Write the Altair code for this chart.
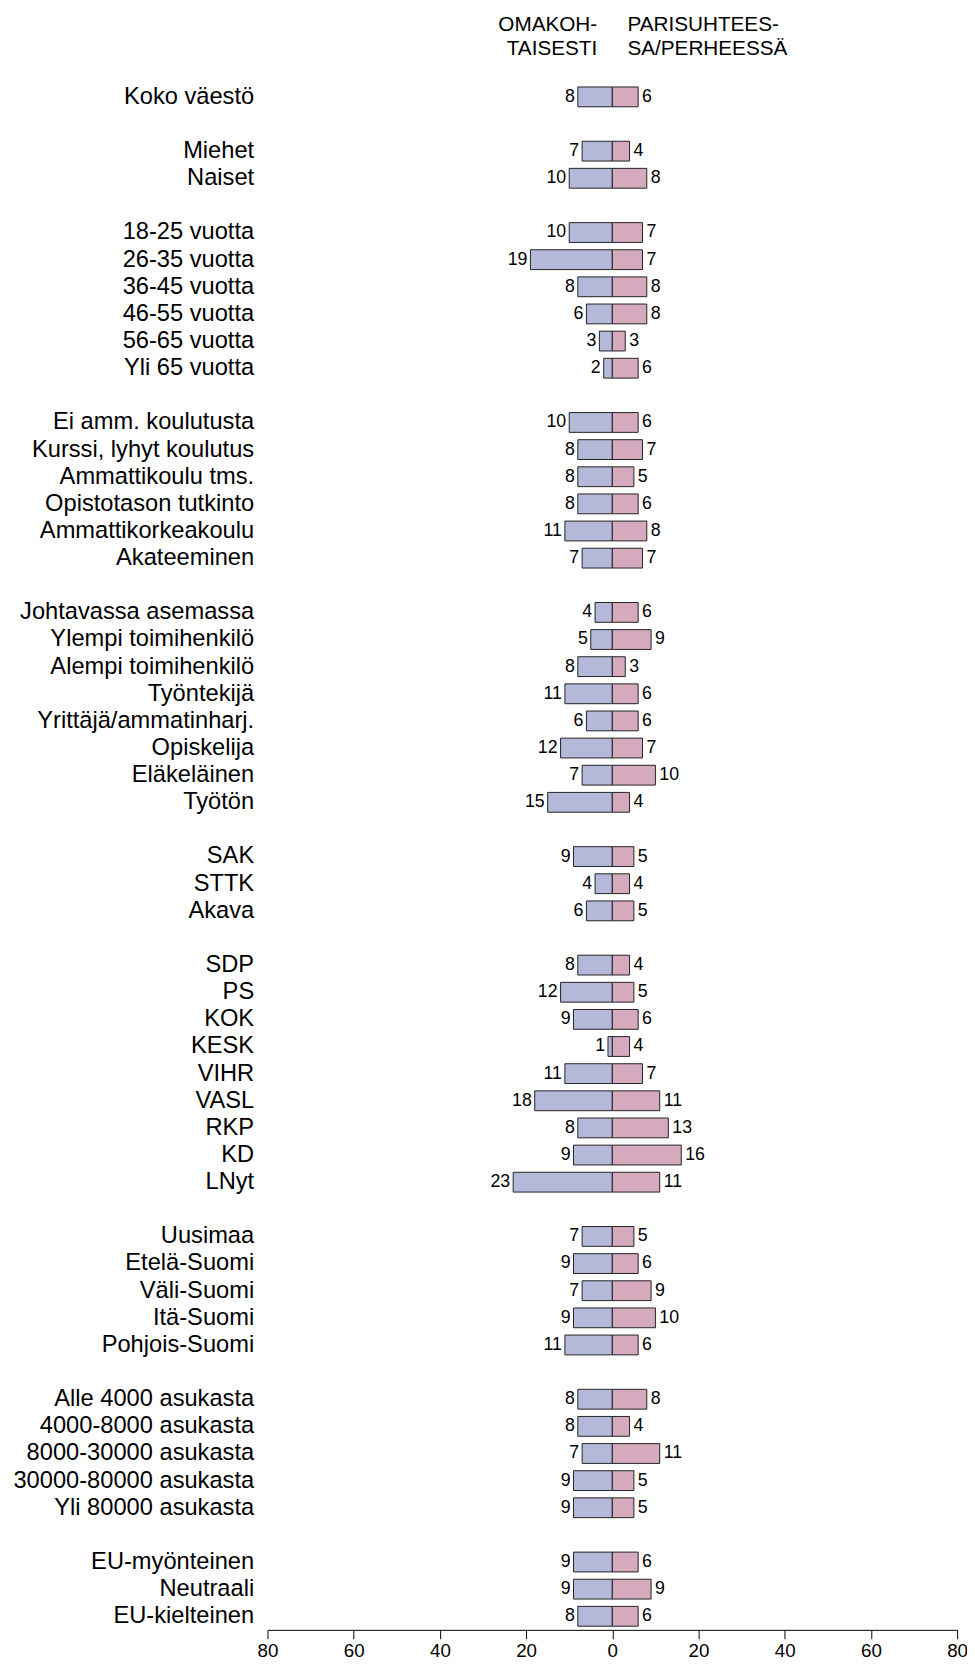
import altair as alt
import pandas as pd

groups = [
    ["Koko väestö"],
    ["Miehet", "Naiset"],
    ["18-25 vuotta", "26-35 vuotta", "36-45 vuotta", "46-55 vuotta", "56-65 vuotta", "Yli 65 vuotta"],
    ["Ei amm. koulutusta", "Kurssi, lyhyt koulutus", "Ammattikoulu tms.", "Opistotason tutkinto",
     "Ammattikorkeakoulu", "Akateeminen"],
    ["Johtavassa asemassa", "Ylempi toimihenkilö", "Alempi toimihenkilö", "Työntekijä",
     "Yrittäjä/ammatinharj.", "Opiskelija", "Eläkeläinen", "Työtön"],
    ["SAK", "STTK", "Akava"],
    ["SDP", "PS", "KOK", "KESK", "VIHR", "VASL", "RKP", "KD", "LNyt"],
    ["Uusimaa", "Etelä-Suomi", "Väli-Suomi", "Itä-Suomi", "Pohjois-Suomi"],
    ["Alle 4000 asukasta", "4000-8000 asukasta", "8000-30000 asukasta", "30000-80000 asukasta",
     "Yli 80000 asukasta"],
    ["EU-myönteinen", "Neutraali", "EU-kielteinen"],
]

omakoht = [
    [8],
    [7, 10],
    [10, 19, 8, 6, 3, 2],
    [10, 8, 8, 8, 11, 7],
    [4, 5, 8, 11, 6, 12, 7, 15],
    [9, 4, 6],
    [8, 12, 9, 1, 11, 18, 8, 9, 23],
    [7, 9, 7, 9, 11],
    [8, 8, 7, 9, 9],
    [9, 9, 8],
]

parisuht = [
    [6],
    [4, 8],
    [7, 7, 8, 8, 3, 6],
    [6, 7, 5, 6, 8, 7],
    [6, 9, 3, 6, 6, 7, 10, 4],
    [5, 4, 5],
    [4, 5, 6, 4, 7, 11, 13, 16, 11],
    [5, 6, 9, 10, 6],
    [8, 4, 11, 5, 5],
    [6, 9, 6],
]

header_left = ["OMAKOH-", "TAISESTI"]
header_right = ["PARISUHTEES-", "SA/PERHEESSÄ"]
tick_values = [-80, -60, -40, -20, 0, 20, 40, 60, 80]

BLUE = "#b4b9da"
PINK = "#d5aabd"
FONT = "Liberation Sans"

# build row order with blank separator rows
row_order = []
bars = []
for gi, (names, lv, rv) in enumerate(zip(groups, omakoht, parisuht)):
    if gi > 0:
        row_order.append(" " * gi)
    for n, a, b in zip(names, lv, rv):
        row_order.append(n)
        bars.append({"row": n, "lo": -a, "hi": 0, "val": a, "side": "L"})
        bars.append({"row": n, "lo": 0, "hi": b, "val": b, "side": "R"})

df = pd.DataFrame(bars)
dfl = df[df.side == "L"]
dfr = df[df.side == "R"]

STEP = 27.5
PLOT_H = STEP * len(row_order)

yscale = alt.Scale(domain=row_order, paddingInner=0.27, paddingOuter=0.135)
xscale = alt.Scale(domain=[-80, 80], nice=False, zero=False)

base = alt.Chart(df)

bar = base.mark_bar(stroke="#222222", strokeWidth=1).encode(
    y=alt.Y("row:N", scale=yscale, sort=row_order, title=None,
            axis=alt.Axis(labelFontSize=24, labelFont=FONT, labelColor="#000000",
                          ticks=False, domain=False, labelPadding=14, labelLimit=400)),
    x=alt.X("lo:Q", scale=xscale, title=None,
            axis=alt.Axis(values=tick_values, labelExpr="abs(datum.value)", grid=False,
                          domainColor="#000000", tickColor="#000000", tickSize=9,
                          labelFontSize=19, labelFont=FONT, labelColor="#000000",
                          labelPadding=3, domainWidth=1, labelFlush=False)),
    x2="hi:Q",
    color=alt.Color("side:N", scale=alt.Scale(domain=["L", "R"], range=[BLUE, PINK]), legend=None),
)

txt_l = alt.Chart(dfl).mark_text(align="right", baseline="middle", dx=-3, fontSize=18,
                                 font=FONT, color="#000000").encode(
    y=alt.Y("row:N", scale=yscale, sort=row_order),
    x=alt.X("lo:Q", scale=xscale),
    text="val:Q",
)
txt_r = alt.Chart(dfr).mark_text(align="left", baseline="middle", dx=4, fontSize=18,
                                 font=FONT, color="#000000").encode(
    y=alt.Y("row:N", scale=yscale, sort=row_order),
    x=alt.X("hi:Q", scale=xscale),
    text="val:Q",
)

hdr = pd.DataFrame({
    "x": [-3.5, -3.5, 3.5, 3.5],
    "t": header_left + header_right,
    "line": [0, 1, 0, 1],
    "side": ["L", "L", "R", "R"],
})
hl0 = alt.Chart(hdr[(hdr.side == "L") & (hdr.line == 0)]).mark_text(
    align="right", baseline="middle", fontSize=21, font=FONT, color="#000000").encode(
    x=alt.X("x:Q", scale=xscale), y=alt.value(-59), text="t:N")
hl1 = alt.Chart(hdr[(hdr.side == "L") & (hdr.line == 1)]).mark_text(
    align="right", baseline="middle", fontSize=21, font=FONT, color="#000000").encode(
    x=alt.X("x:Q", scale=xscale), y=alt.value(-35), text="t:N")
hr0 = alt.Chart(hdr[(hdr.side == "R") & (hdr.line == 0)]).mark_text(
    align="left", baseline="middle", fontSize=21, font=FONT, color="#000000").encode(
    x=alt.X("x:Q", scale=xscale), y=alt.value(-59), text="t:N")
hr1 = alt.Chart(hdr[(hdr.side == "R") & (hdr.line == 1)]).mark_text(
    align="left", baseline="middle", fontSize=21, font=FONT, color="#000000").encode(
    x=alt.X("x:Q", scale=xscale), y=alt.value(-35), text="t:N")

chart = alt.layer(bar, txt_l, txt_r, hl0, hl1, hr0, hr1).properties(
    width=699,
    height=PLOT_H,
    background="#ffffff",
    autosize=alt.AutoSizeParams(type="none"),
    padding={"left": 263, "top": 65, "right": 10, "bottom": 40},
).configure_view(stroke=None, strokeWidth=0)

chart.save("out.html", embed_options={"renderer": "svg", "actions": False})
